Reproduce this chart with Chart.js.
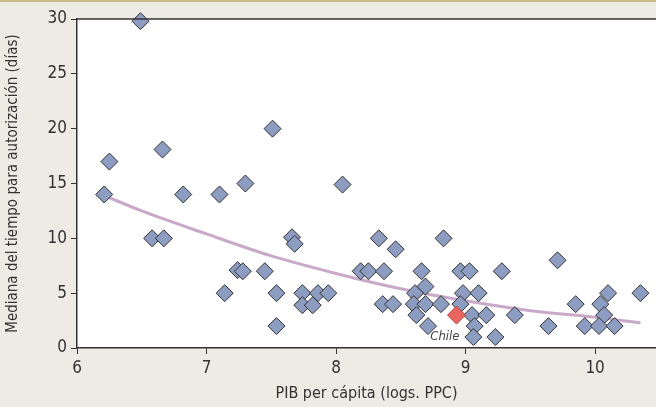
<!DOCTYPE html>
<html>
<head>
<meta charset="utf-8">
<script src="https://cdn.jsdelivr.net/npm/chart.js@4/dist/chart.umd.min.js"></script>
<style>
  html, body { margin: 0; padding: 0; background: #eeebe4; }
  canvas { display: block; }
</style>
</head>
<body>
<canvas id="c" width="656" height="407"></canvas>
<script>
// countries: log GDP per capita (PPP) vs median days for authorization
const gdpLog = [6.21, 6.25, 6.49, 6.58, 6.66, 6.67, 6.82, 7.10, 7.14, 7.30, 7.24, 7.28, 7.45, 7.51, 7.54, 7.54,
    7.66, 7.68, 7.74, 7.74, 7.86, 7.82, 7.94, 8.05, 8.19, 8.25, 8.33, 8.37, 8.36, 8.46, 8.44, 8.66, 8.69, 8.61,
    8.60, 8.69, 8.62, 8.71, 8.81, 8.83, 8.96, 9.03, 8.98, 9.10, 8.96, 9.05, 9.07, 9.06, 9.16, 9.23, 9.28, 9.38,
    9.64, 9.71, 9.85, 9.92, 10.04, 10.10, 10.07, 10.03, 10.15, 10.35];
const days = [14, 17, 29.8, 10, 18.1, 10, 14, 14, 5, 15, 7.1, 7, 7, 20, 5, 2,
    10.1, 9.5, 5, 3.9, 5, 3.9, 5, 14.9, 7, 7, 10, 7, 4, 9, 4, 7, 5.6, 5,
    4, 4, 3, 2, 4, 10, 7, 7, 5, 5, 4, 3, 2, 1, 3, 1, 7, 3,
    2, 8, 4, 2, 4, 5, 3, 2, 2, 5];
const chileX = [8.93];
const chileY = [3];
const trendX = [6.21, 6.5, 7, 7.5, 8, 8.5, 9, 9.5, 10, 10.35];
const trendY = [13.9, 12.5, 10.4, 8.4, 6.8, 5.4, 4.3, 3.4, 2.8, 2.3];
const xTicks = [6, 7, 8, 9, 10];

const toPts = (xs, ys) => xs.map((x, i) => ({ x, y: ys[i] }));
const FONT = "'DejaVu Sans Condensed', 'Liberation Sans Narrow', sans-serif";

const decor = {
    id: "decor",
    beforeDraw(chart) {
        const { ctx, chartArea: a } = chart;
        ctx.save();
        ctx.fillStyle = "#eeebe4";
        ctx.fillRect(0, 0, chart.width, chart.height);
        ctx.fillStyle = "#c9bb8e";
        ctx.fillRect(0, 0, chart.width, 2);
        ctx.fillStyle = "#ffffff";
        ctx.fillRect(a.left, a.top, a.right - a.left, a.bottom - a.top);
        ctx.restore();
    },
    afterDraw(chart) {
        const { ctx, chartArea: a, scales } = chart;
        ctx.save();
        ctx.strokeStyle = "#333";
        ctx.lineWidth = 1.5;
        ctx.beginPath();
        ctx.moveTo(a.left, a.top);
        ctx.lineTo(a.right, a.top);
        ctx.stroke();
        ctx.fillStyle = "#444";
        ctx.font = "italic 13px " + FONT;
        ctx.textAlign = "right";
        ctx.textBaseline = "middle";
        ctx.fillText("Chile", scales.x.getPixelForValue(chileX[0]) + 3, scales.y.getPixelForValue(chileY[0]) + 22);
        ctx.restore();
    }
};

new Chart(document.getElementById("c"), {
    type: "scatter",
    data: {
        datasets: [{
            type: "line",
            data: toPts(trendX, trendY),
            borderColor: "#c9a9c9",
            borderWidth: 3,
            pointRadius: 0,
            cubicInterpolationMode: "monotone",
            order: 3
        }, {
            data: toPts(gdpLog, days),
            pointStyle: "rectRot",
            pointRadius: 8.5,
            backgroundColor: "#8c9dc1",
            borderColor: "#333",
            borderWidth: 1,
            clip: false,
            order: 2
        }, {
            data: toPts(chileX, chileY),
            pointStyle: "rectRot",
            pointRadius: 9,
            backgroundColor: "#e8665f",
            borderColor: "#b5433d",
            borderWidth: 1,
            order: 1
        }]
    },
    options: {
        responsive: false,
        animation: false,
        layout: { autoPadding: false, padding: { top: 19, right: 0, left: 0, bottom: 0 } },
        plugins: { legend: { display: false }, tooltip: { enabled: false } },
        scales: {
            x: {
                type: "linear",
                min: 6, max: 10.47,
                afterFit: (s) => { s.height = 59; },
                afterBuildTicks: (s) => { s.ticks = xTicks.map(v => ({ value: v })); },
                grid: { drawOnChartArea: false, color: "#333", tickLength: 6 },
                border: { color: "#333", width: 1.5 },
                ticks: { color: "#333", font: { family: FONT, size: 17 }, padding: 4 },
                title: { display: true, text: "PIB per cápita (logs. PPC)", color: "#333",
                    font: { family: FONT, size: 16 }, padding: { top: 0 } }
            },
            y: {
                min: 0, max: 30,
                afterFit: (s) => { s.width = 77; },
                grid: { drawOnChartArea: false, color: "#333", tickLength: 6 },
                border: { color: "#333", width: 1.5 },
                ticks: { stepSize: 5, color: "#333", font: { family: FONT, size: 17 }, padding: 4 },
                title: { display: true, text: "Mediana del tiempo para autorización (días)", color: "#333",
                    font: { family: FONT, size: 15 }, padding: { bottom: 2 } }
            }
        }
    },
    plugins: [decor]
});
</script>
</body>
</html>
